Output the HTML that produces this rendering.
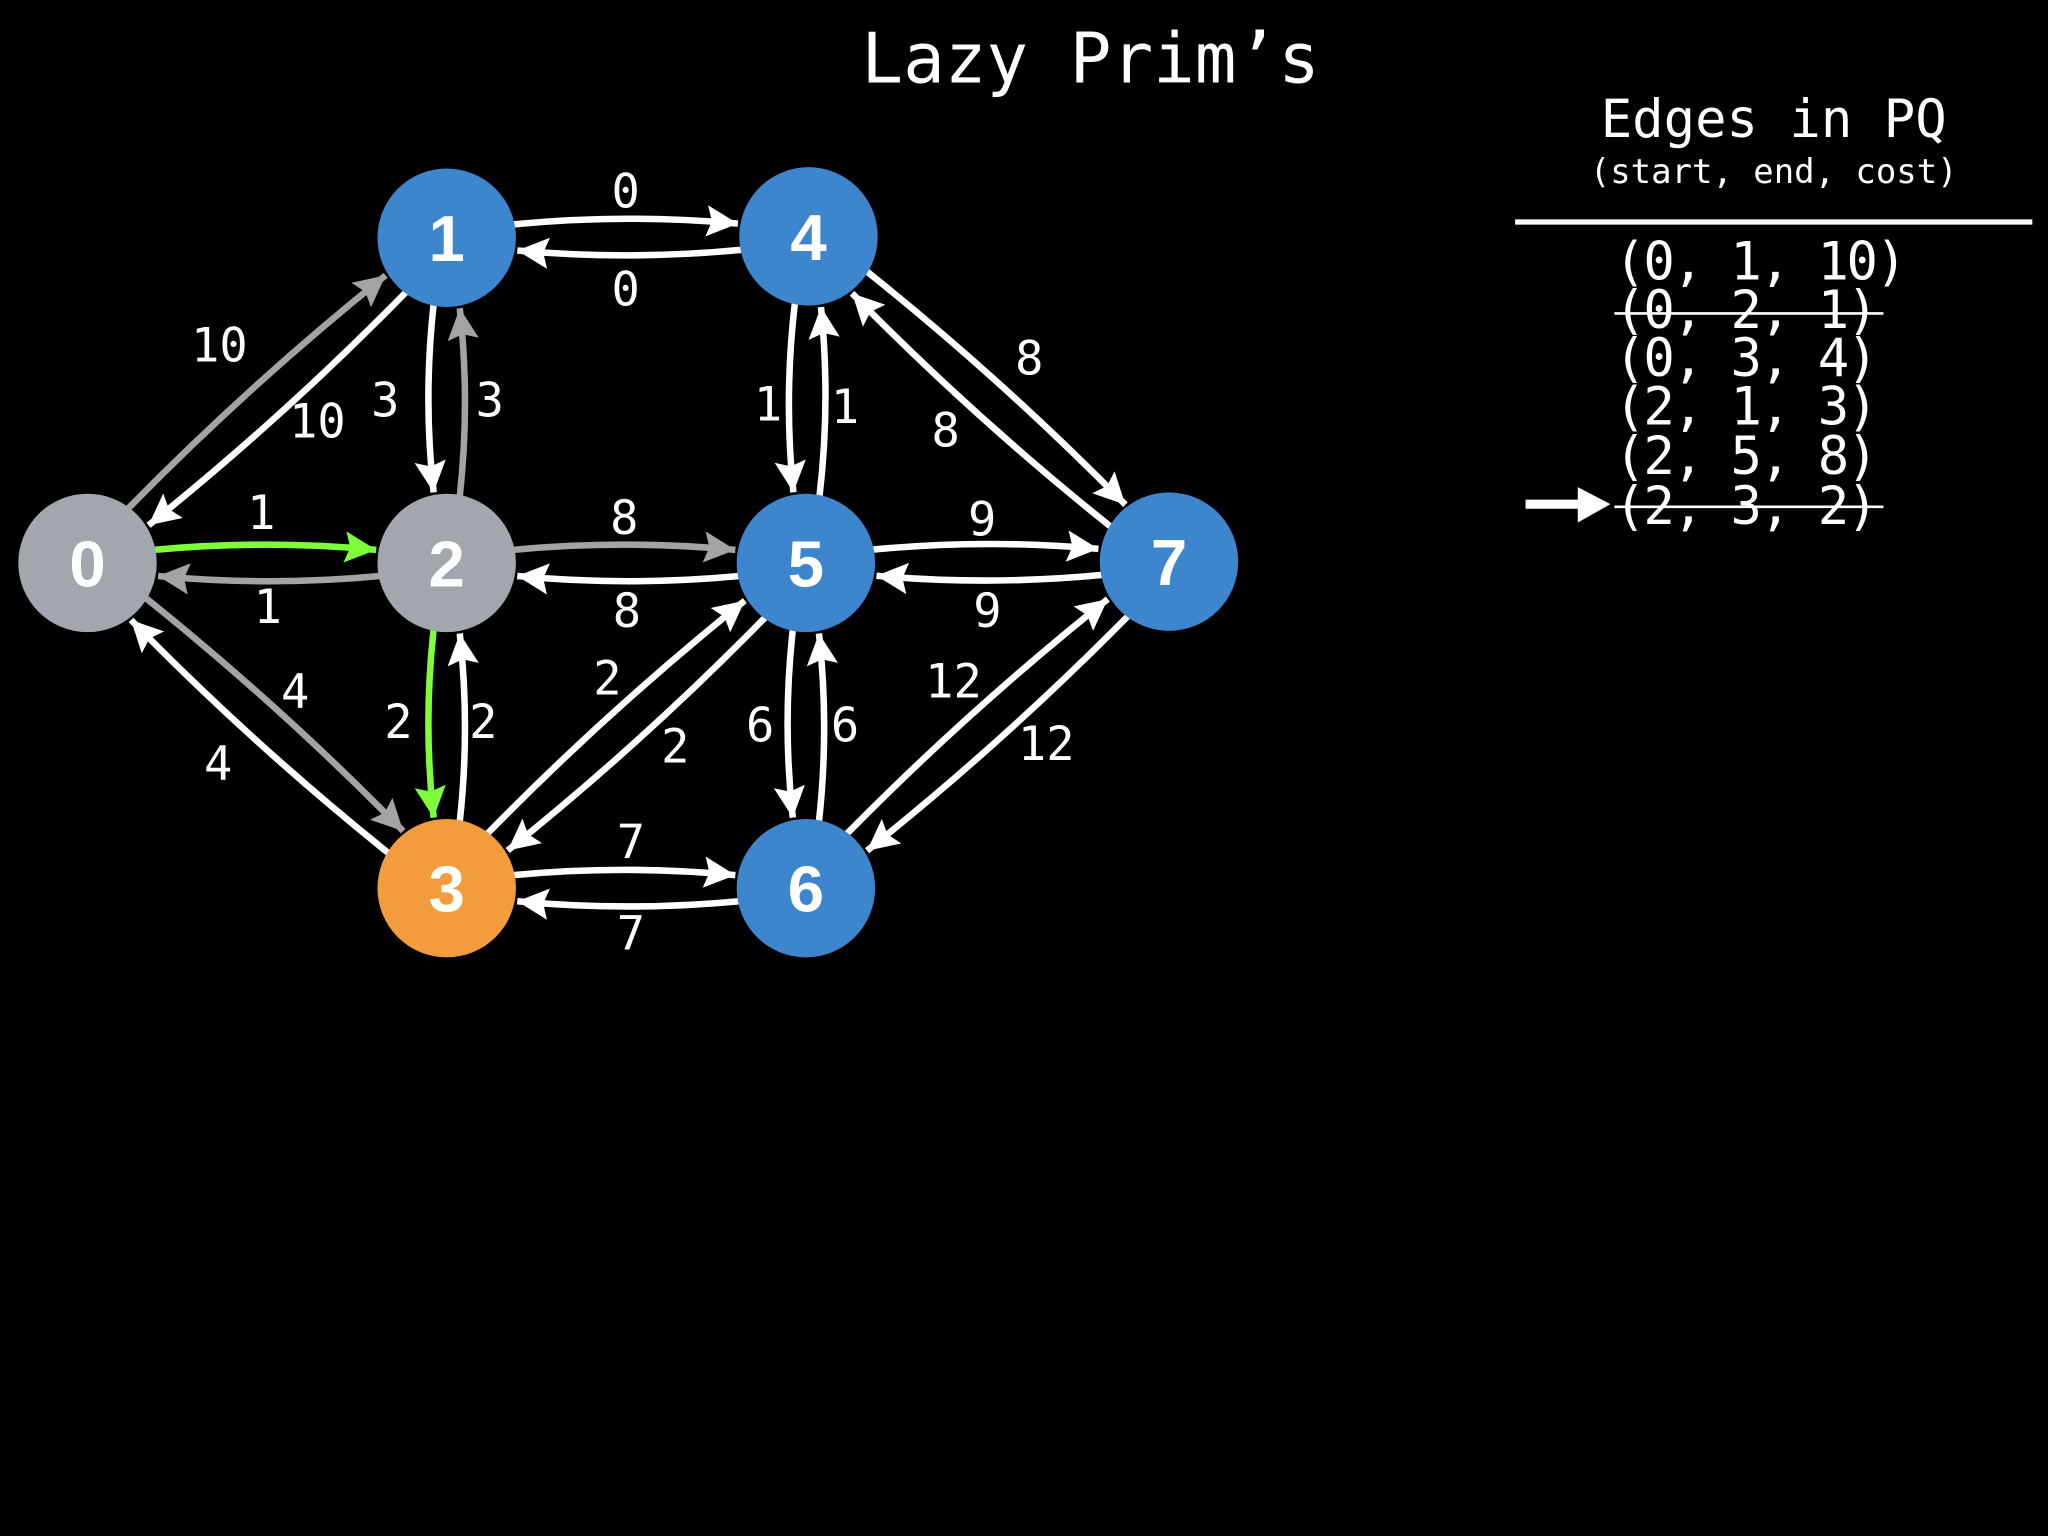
<!DOCTYPE html>
<html><head><meta charset="utf-8"><style>
html,body{margin:0;padding:0;background:#000;width:2048px;height:1536px;overflow:hidden}
svg{display:block}
.m{font-family:"DejaVu Sans Mono","Liberation Mono",monospace;fill:#fff}
.n{font-family:"Liberation Sans",sans-serif;font-weight:bold;fill:#fff;font-size:50px}
</style></head><body>
<svg id="s" width="2048" height="1536" viewBox="0 0 1568 1176" xmlns="http://www.w3.org/2000/svg">
<defs>
<marker id="aw" markerUnits="userSpaceOnUse" markerWidth="26" markerHeight="24" refX="24" refY="12" orient="auto"><path d="M0,0 L24,12 L0,24 L4,12 Z" fill="#fff"/></marker>
<marker id="ag" markerUnits="userSpaceOnUse" markerWidth="26" markerHeight="24" refX="24" refY="12" orient="auto"><path d="M0,0 L24,12 L0,24 L4,12 Z" fill="#a3a3a3"/></marker>
<marker id="al" markerUnits="userSpaceOnUse" markerWidth="26" markerHeight="24" refX="24" refY="12" orient="auto"><path d="M0,0 L24,12 L0,24 L4,12 Z" fill="#7dff3a"/></marker>
</defs>
<g id="edges"></g>
<g id="nodes"></g>
<g id="labels" class="m" font-size="36" text-anchor="middle" dominant-baseline="central"></g>
<text class="m" x="835" y="63" font-size="53" text-anchor="middle">Lazy Prim’s</text>
<text class="m" x="1358" y="105" font-size="40" text-anchor="middle">Edges in PQ</text>
<text class="m" x="1358" y="140" font-size="26" text-anchor="middle">(start, end, cost)</text>
<line x1="1160" y1="170" x2="1556" y2="170" stroke="#fff" stroke-width="4"/>
<g class="m" font-size="40">
<text x="1236" y="214" textLength="224">(0, 1, 10)</text>
<text x="1236" y="251" textLength="202">(0, 2, 1)</text>
<text x="1236" y="288" textLength="202">(0, 3, 4)</text>
<text x="1236" y="325" textLength="202">(2, 1, 3)</text>
<text x="1236" y="363" textLength="202">(2, 5, 8)</text>
<text x="1236" y="401" textLength="202">(2, 3, 2)</text>
</g>
<line x1="1236" y1="240" x2="1442" y2="240" stroke="#fff" stroke-width="2"/>
<line x1="1236" y1="388" x2="1442" y2="388" stroke="#fff" stroke-width="2"/>
<line x1="1168" y1="386" x2="1212" y2="386" stroke="#fff" stroke-width="7"/>
<path d="M1208,373 L1233,386 L1208,400 Z" fill="#fff"/>
</svg>
<script>
var N={0:[67,431,"#a2a6ad"],1:[342,182,"#3d85cc"],2:[342,431,"#a2a6ad"],3:[342,680,"#f29c3e"],4:[619,181,"#3d85cc"],5:[617,431,"#3d85cc"],6:[617,680,"#3d85cc"],7:[895,430,"#3d85cc"]};
var R=53,W="#fff",G="#a3a3a3",L="#7dff3a";
var E=[[0,1,G,-1,"10",168,265],[1,0,W,-1,"10",243,323],[0,2,L,-1,"1",200,393],[2,0,G,-1,"1",205,465],
[0,3,G,-1,"4",226,530],[3,0,W,-1,"4",167,585],[1,2,W,1,"3",295,307],[2,1,G,1,"3",375,307],
[2,3,L,1,"2",305,553],[3,2,W,1,"2",370,553],[1,4,W,-1,"0",479,147],[4,1,W,-1,"0",479,222],
[2,5,G,-1,"8",478,397],[5,2,W,-1,"8",480,468],[3,5,W,-1,"2",465,520],[5,3,W,-1,"2",517,572],
[3,6,W,-1,"7",483,645],[6,3,W,-1,"7",483,715],[4,5,W,1,"1",588,310],[5,4,W,1,"1",647,312],
[5,6,W,1,"6",582,556],[6,5,W,1,"6",647,556],[4,7,W,-1,"8",788,275],[7,4,W,-1,"8",724,330],
[5,7,W,-1,"9",752,398],[7,5,W,-1,"9",756,468],[6,7,W,-1,"12",730,522],[7,6,W,-1,"12",801,570]];
var ns="http://www.w3.org/2000/svg",eg=document.getElementById("edges"),lg=document.getElementById("labels"),ng=document.getElementById("nodes");
E.forEach(function(e){var a=N[e[0]],b=N[e[1]];var dx=b[0]-a[0],dy=b[1]-a[1],l=Math.hypot(dx,dy);dx/=l;dy/=l;
var nx=-dy*e[3],ny=dx*e[3],o=10;
var sx=a[0]+dx*(R-2)+nx*o,sy=a[1]+dy*(R-2)+ny*o,tx=b[0]-dx*(R+1)+nx*o,ty=b[1]-dy*(R+1)+ny*o;
var cx=(sx+tx)/2+nx*8,cy=(sy+ty)/2+ny*8;
var p=document.createElementNS(ns,"path");p.setAttribute("d","M"+sx+","+sy+" Q"+cx+","+cy+" "+tx+","+ty);
p.setAttribute("fill","none");p.setAttribute("stroke",e[2]);p.setAttribute("stroke-width","5");
p.setAttribute("marker-end","url(#"+(e[2]==W?"aw":e[2]==G?"ag":"al")+")");eg.appendChild(p);
var t=document.createElementNS(ns,"text");t.setAttribute("x",e[5]);t.setAttribute("y",e[6]);t.textContent=e[4];lg.appendChild(t);});
for(var k in N){var c=document.createElementNS(ns,"circle");c.setAttribute("cx",N[k][0]);c.setAttribute("cy",N[k][1]);c.setAttribute("r",R);c.setAttribute("fill",N[k][2]);ng.appendChild(c);
var t=document.createElementNS(ns,"text");t.setAttribute("class","n");t.setAttribute("x",N[k][0]);t.setAttribute("y",N[k][1]+18);t.setAttribute("text-anchor","middle");t.textContent=k;ng.appendChild(t);}
</script>
</body></html>
